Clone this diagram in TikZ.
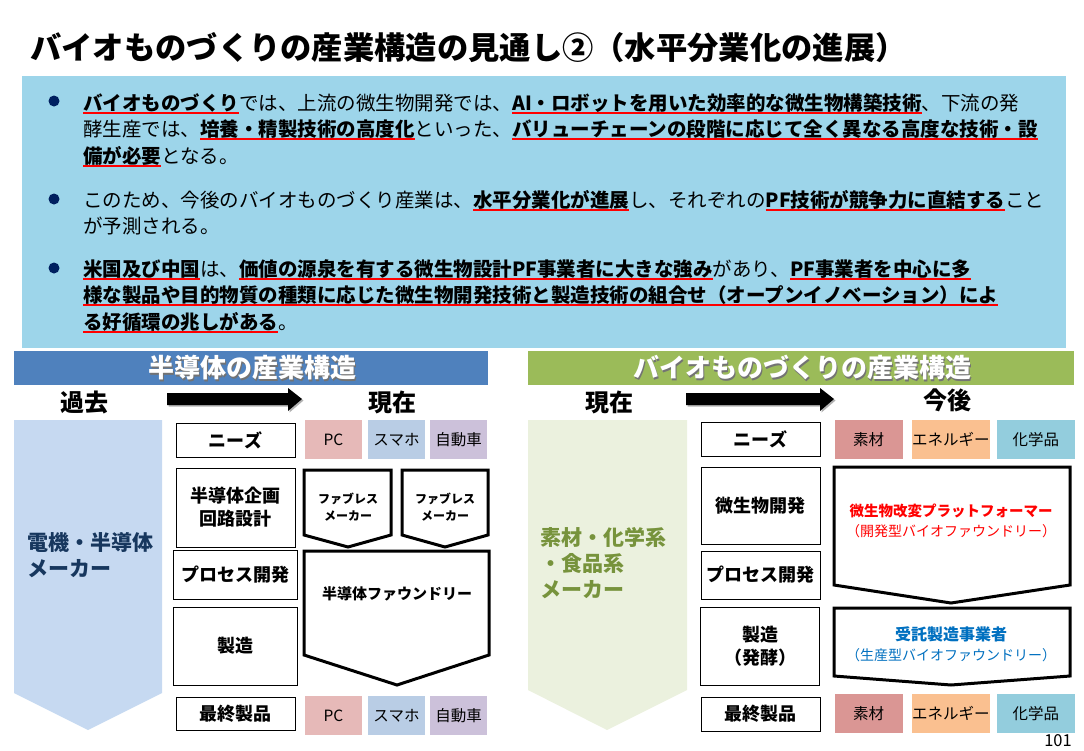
\documentclass[tikz,border=0pt]{standalone}
\usepackage{fontspec}
\setmainfont{Noto Sans CJK JP}
\usepackage{tikz}
\definecolor{panelblue}{RGB}{157,213,234}
\definecolor{dotnavy}{RGB}{0,32,96}
\definecolor{semiblue}{RGB}{79,129,189}
\definecolor{bioGreen}{RGB}{155,187,89}
\definecolor{semipale}{RGB}{198,217,241}
\definecolor{biopale}{RGB}{235,241,222}
\definecolor{semitext}{RGB}{23,55,94}
\definecolor{biotext}{RGB}{119,147,60}
\definecolor{pcpink}{RGB}{230,185,184}
\definecolor{phoneblue}{RGB}{185,205,229}
\definecolor{carlilac}{RGB}{204,193,218}
\definecolor{matrose}{RGB}{218,150,148}
\definecolor{energyorange}{RGB}{250,192,144}
\definecolor{chemcyan}{RGB}{147,205,221}
\definecolor{pfblue}{RGB}{0,112,192}
\newcommand{\ulred}[1]{\setbox0\hbox{\bfseries #1}\rlap{\textcolor{red}{\rule[-3.5pt]{\wd0}{1.8pt}}}\box0}
\tikzset{bodytext/.style={anchor=north west,inner sep=0pt,align=left,
           font=\fontsize{19.5}{26.5}\selectfont},
         dot/.style={circle,fill=dotnavy,inner sep=0pt,minimum size=11pt},
         headtext/.style={text=white,font=\fontsize{26}{30}\selectfont\bfseries},
         eratext/.style={font=\fontsize{24}{28}\selectfont\bfseries},
         stepbox/.style={draw,line width=1pt,fill=white,align=center,minimum width=119pt,
           font=\fontsize{18}{23}\selectfont\bfseries},
         colbox/.style={inner sep=0pt,minimum height=39pt,font=\fontsize{15.5}{18}\selectfont},
         chevron/.style={draw,line width=3pt,fill=white,line join=miter},
         pftext/.style={align=center,font=\fontsize{14}{20}\selectfont},
         maker/.style={anchor=west,align=left,inner sep=0pt,
           font=\fontsize{21}{26}\selectfont\bfseries}}

\begin{document}
\begin{tikzpicture}[x=1pt,y=-1pt]
  \useasboundingbox (0,0) rectangle (1084,750);
  \node[anchor=base west,inner sep=0pt,font=\fontsize{31.3}{36}\selectfont\bfseries] (title) at (30,59)
    {バイオものづくりの産業構造の見通し②（水平分業化の進展）};
  \fill[panelblue] (22,76) rectangle (1066,348);
  \node[dot] (dot1) at (54,101) {};
  \node[dot] (dot2) at (54,199) {};
  \node[dot] (dot3) at (54,268) {};
  \node[bodytext] (para1) at (83,93)
    {\ulred{バイオものづくり}では、上流の微生物開発では、\ulred{AI・ロボットを用いた効率的な微生物構築技術}、下流の発\\
     酵生産では、\ulred{培養・精製技術の高度化}といった、\ulred{バリューチェーンの段階に応じて全く異なる高度な技術・設}\\
     \ulred{備が必要}となる。};
  \node[bodytext] (para2) at (83,190)
    {このため、今後のバイオものづくり産業は、\ulred{水平分業化が進展}し、それぞれの\ulred{PF技術が競争力に直結する}こと\\
     が予測される。};
  \node[bodytext] (para3) at (83,259)
    {\ulred{米国及び中国}は、\ulred{価値の源泉を有する微生物設計PF事業者に大きな強み}があり、\ulred{PF事業者を中心に多}\\
     \ulred{様な製品や目的物質の種類に応じた微生物開発技術と製造技術の組合せ（オープンイノベーション）によ}\\
     \ulred{る好循環の兆しがある}。};

  \fill[semiblue] (14,351) rectangle (488,385);
  \node[headtext,text=black!55] at (253.5,369.5) {半導体の産業構造};
  \node[headtext] (semiHead) at (252,368) {半導体の産業構造};
  \fill[bioGreen] (528,351) rectangle (1074,385);
  \node[headtext,text=black!55] at (803.5,369.5) {バイオものづくりの産業構造};
  \node[headtext] (bioHead) at (802,368) {バイオものづくりの産業構造};

  \node[eratext] (semiPast) at (84,402) {過去};
  \node[eratext] (semiNow) at (392,402) {現在};
  \node[eratext] (bioNow) at (609,402) {現在};
  \node[eratext] (bioFuture) at (947,400) {今後};
  \foreach \xa/\xb in {167/302,686/834}
  {
    \fill[black!30] (\xa+1.5,394.5) -- (\xb-12.5,394.5) -- (\xb-12.5,389.5) -- (\xb+1.5,400.5)
      -- (\xb-12.5,412.5) -- (\xb-12.5,406.5) -- (\xa+1.5,406.5) -- cycle;
    \fill[black] (\xa,393) -- (\xb-14,393) -- (\xb-14,388) -- (\xb,399)
      -- (\xb-14,411) -- (\xb-14,405) -- (\xa,405) -- cycle;
  }

  \fill[semipale] (14,420) -- (162,420) -- (162,693) -- (88,730) -- (14,693) -- cycle;
  \node[maker,text=semitext] (semiMaker) at (27,555) {電機・半導体\\メーカー};
  \fill[biopale] (528,420) -- (687,420) -- (687,690) -- (607,730) -- (528,690) -- cycle;
  \node[maker,text=biotext] (bioMaker) at (540,563) {素材・化学系\\・食品系\\メーカー};

  \node[stepbox,minimum height=34pt] (semiNeeds) at (235.5,440) {ニーズ};
  \node[stepbox,minimum height=79pt] (semiDesign) at (235.5,507.5) {半導体企画\\回路設計};
  \node[stepbox,minimum width=124pt,minimum height=49pt] (semiProcess) at (235,574.5) {プロセス開発};
  \node[stepbox,minimum width=124pt,minimum height=78pt] (semiMake) at (235,646) {製造};
  \node[stepbox,minimum height=33pt] (semiProduct) at (235.5,713.5) {最終製品};

  \node[colbox,fill=pcpink,minimum width=57pt] (pcTop) at (333.5,439.5) {PC};
  \node[colbox,fill=phoneblue,minimum width=57pt] (phoneTop) at (396.5,439.5) {スマホ};
  \node[colbox,fill=carlilac,minimum width=57pt] (carTop) at (458.5,439.5) {自動車};
  \node[colbox,fill=pcpink,minimum width=57pt] (pcBottom) at (333.5,715.5) {PC};
  \node[colbox,fill=phoneblue,minimum width=57pt] (phoneBottom) at (396.5,715.5) {スマホ};
  \node[colbox,fill=carlilac,minimum width=57pt] (carBottom) at (458.5,715.5) {自動車};

  \draw[chevron] (304,470) -- (391,470) -- (391,535) -- (348,547) -- (304,535) -- cycle;
  \node[pftext,font=\fontsize{12}{17}\selectfont\bfseries] (fabless1) at (348,507) {ファブレス\\メーカー};
  \draw[chevron] (402,470) -- (488,470) -- (488,535) -- (445,547) -- (402,535) -- cycle;
  \node[pftext,font=\fontsize{12}{17}\selectfont\bfseries] (fabless2) at (445,507) {ファブレス\\メーカー};
  \draw[chevron] (304,551) -- (489,551) -- (489,655) -- (397,685) -- (304,655) -- cycle;
  \node[pftext,font=\fontsize{15}{20}\selectfont\bfseries] (foundry) at (397,594) {半導体ファウンドリー};

  \node[stepbox,minimum height=34pt] (bioNeeds) at (760.5,439) {ニーズ};
  \node[stepbox,minimum height=77pt] (bioMicrobe) at (760.5,505.5) {微生物開発};
  \node[stepbox,minimum height=48pt] (bioProcess) at (760.5,575) {プロセス開発};
  \node[stepbox,minimum height=78pt] (bioMake) at (760,646) {製造\\（発酵）};
  \node[stepbox,minimum height=34pt] (bioProduct) at (760.5,714) {最終製品};

  \node[colbox,fill=matrose,minimum width=68pt] (matTop) at (868.5,439.5) {素材};
  \node[colbox,fill=energyorange,minimum width=78.5pt] (energyTop) at (950.75,439.5) {エネルギー};
  \node[colbox,fill=chemcyan,minimum width=78.5pt] (chemTop) at (1035.75,439.5) {化学品};
  \node[colbox,fill=matrose,minimum width=68pt] (matBottom) at (868.5,713.5) {素材};
  \node[colbox,fill=energyorange,minimum width=78.5pt] (energyBottom) at (950.75,713.5) {エネルギー};
  \node[colbox,fill=chemcyan,minimum width=78.5pt] (chemBottom) at (1035.75,713.5) {化学品};

  \draw[chevron] (834,467) -- (1070,467) -- (1070,585) -- (951,603) -- (834,585) -- cycle;
  \node[pftext,text=red] (platformer) at (951,521)
    {{\fontsize{14.5}{20}\selectfont\bfseries 微生物改変プラットフォーマー}\\（開発型バイオファウンドリー）};
  \draw[chevron] (834,608) -- (1070,608) -- (1070,676) -- (951,685) -- (834,676) -- cycle;
  \node[pftext,text=pfblue] (contractor) at (951,644.5)
    {{\fontsize{16}{20}\selectfont\bfseries 受託製造事業者}\\（生産型バイオファウンドリー）};

  \node[font=\fontsize{16.5}{18}\selectfont,inner sep=0pt] (pageNo) at (1058,741) {101};
\end{tikzpicture}
\end{document}
